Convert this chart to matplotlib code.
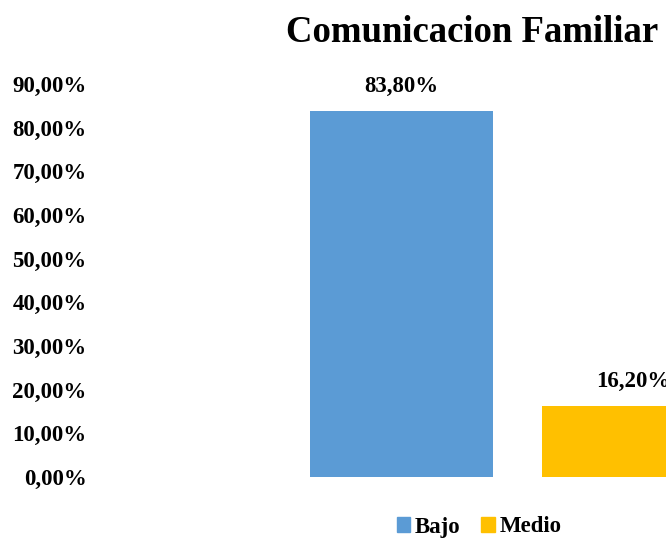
import matplotlib
matplotlib.use("Agg")
import matplotlib.pyplot as plt
from matplotlib.patches import Patch

plt.rcParams['font.family'] = ['Liberation Serif', 'DejaVu Serif']
plt.rcParams['font.weight'] = 'bold'

series = ["Bajo", "Medio"]
values = [0.838, 0.162]
labels = ["83,80%", "16,20%"]
colors = ["#5B9BD5", "#FFC000"]
yticks = [0.0, 0.1, 0.2, 0.3, 0.4, 0.5, 0.6, 0.7, 0.8, 0.9]
ytick_labels = ["0,00%", "10,00%", "20,00%", "30,00%", "40,00%", "50,00%",
                "60,00%", "70,00%", "80,00%", "90,00%"]
title = "Comunicacion Familiar"

W, H = 666, 540
fig = plt.figure(figsize=(W / 100, H / 100), dpi=100)
ax = fig.add_axes([95 / W, (H - 477) / H, (W - 95) / W, 393 / H])

fs = 16.5
x = [0, 1]
bw = 183 / 232
ax.bar(x, values, width=bw, color=colors, zorder=2)
for xi, v, lab in zip(x, values, labels):
    ax.annotate(lab, (xi, v), xytext=(0, 10), textcoords="offset points",
                ha="center", va="bottom", fontsize=fs, fontweight="bold")

ax.set_xlim(-1.321, 1.140)
ax.set_ylim(0, 0.9)
ax.set_yticks(yticks)
ax.set_yticklabels(ytick_labels, fontsize=fs, fontweight="bold")
ax.set_xticks([])
ax.tick_params(axis="y", length=0, pad=6)
for s in ax.spines.values():
    s.set_visible(False)

fig.text(472 / W, 1 - 32 / H, title, ha="center", va="center",
         fontsize=26.5, fontweight="bold")

handles = [Patch(color=c) for c in colors]
fig.legend(handles, series, loc="center", bbox_to_anchor=(479 / W, 1 - 527 / H),
           ncol=2, frameon=False, handlelength=0.6, handleheight=0.6,
           handletextpad=0.2, columnspacing=0.9,
           prop={'weight': 'bold', 'size': fs})

fig.savefig("out.png", dpi=100)
